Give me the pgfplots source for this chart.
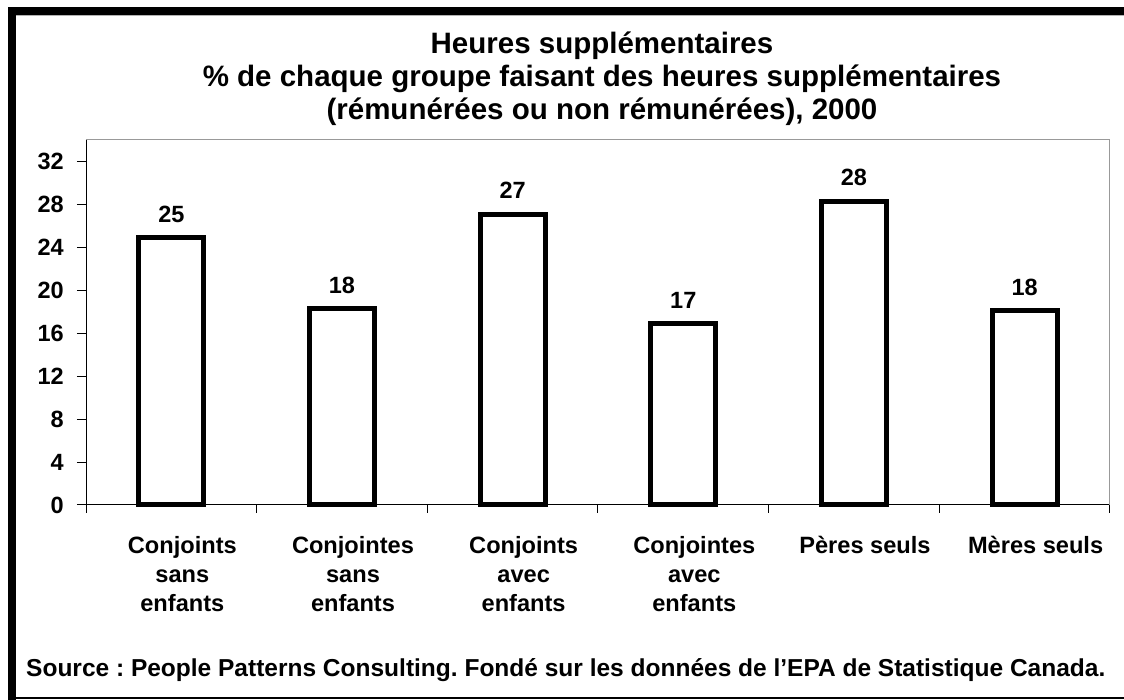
\documentclass[border=0pt]{standalone}
\usepackage{fontspec}
\setmainfont{Liberation Sans}
\usepackage{pgfplots}
\pgfplotsset{compat=1.18}
\usepackage{pgfplotstable}
\pgfplotstableread{
x y lab
1 24.9 25
2 18.3 18
3 27.1 27
4 16.9 17
5 28.3 28
6 18.1 18
}\data
\frenchspacing
\begin{document}
\begin{tikzpicture}[x=1pt,y=1pt]
\useasboundingbox (0,0) rectangle (1124,700);
\fill[white] (0,0) rectangle (1124,700);
\fill[black] (8,0) rectangle (16,693);
\fill[black] (8,685) rectangle (1124,693);
\draw[gray!60, line width=1pt] (16,684.5) -- (1124,684.5);
\draw[black, line width=1.2pt] (8,2) -- (1124,2);
\node[anchor=base, font=\fontsize{29.5}{34}\selectfont\bfseries] at (602,646) {Heures supplémentaires};
\node[anchor=base, font=\fontsize{29.5}{34}\selectfont\bfseries] at (602,613) {\% de chaque groupe faisant des heures supplémentaires};
\node[anchor=base, font=\fontsize{29.5}{34}\selectfont\bfseries] at (602,580) {(rémunérées ou non rémunérées), 2000};
\node[anchor=base west, inner sep=0pt, font=\fontsize{24.5}{28}\selectfont\bfseries] at (26,23) {Source : People Patterns Consulting. Fondé sur les données de l’EPA de Statistique Canada.};
\begin{axis}[
  at={(86pt,195pt)}, anchor=south west,
  scale only axis, width=1024pt, height=365pt,
  xmin=0.5, xmax=6.5, ymin=0, ymax=34,
  axis x line*=bottom, axis y line*=left,
  axis line style={black, line width=1pt},
  clip=false,
  tick align=outside,
  major tick length=9pt,
  ytick={0,4,...,32},
  yticklabel style={font=\fontsize{23.5}{27}\selectfont\bfseries, inner sep=0pt, anchor=east, xshift=-13pt},
  /pgf/number format/assume math mode=true,
  xtick={1,...,6},
  xtick style={draw=none},
  xticklabels={{Conjoints\\sans\\enfants},{Conjointes\\sans\\enfants},{Conjoints\\avec\\enfants},{Conjointes\\avec\\enfants},{Pères seuls},{Mères seuls}},
  xticklabel style={font=\fontsize{23.6}{29}\selectfont\bfseries, align=center, inner sep=0pt, anchor=north, yshift=-22pt, xshift=11pt},
  ytick style={black, line width=1pt},
]
\draw[gray!80, line width=1pt] (rel axis cs:0,1) -- (rel axis cs:1,1) -- (rel axis cs:1,0);
\pgfplotsinvokeforeach{0.5,1.5,2.5,3.5,4.5,5.5,6.5}{\draw[black, line width=1pt] (axis cs:#1,0) -- ([yshift=-8pt]axis cs:#1,0);}
\addplot[ybar, bar width=0.38, draw=black, line width=5pt, fill=white,
  nodes near coords, point meta=explicit symbolic,
  every node near coord/.style={font=\fontsize{23.5}{27}\selectfont\bfseries, inner sep=0pt, anchor=base, yshift=15.5pt}]
  table[x=x, y=y, meta=lab]{\data};
\end{axis}
\end{tikzpicture}
\end{document}
